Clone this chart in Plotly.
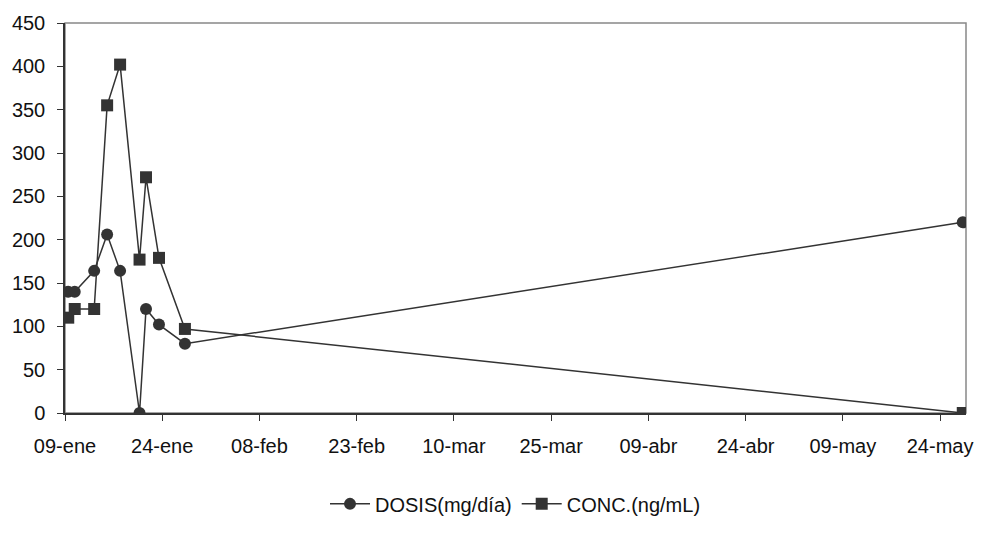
import plotly.graph_objects as go
import pandas as pd

# ---- data ----
fechas = ["2006-01-09", "2006-01-10", "2006-01-13", "2006-01-15", "2006-01-17",
          "2006-01-20", "2006-01-21", "2006-01-23", "2006-01-27", "2006-05-27"]
dosis = [140, 140, 164, 206, 164, 0, 120, 102, 80, 220]
conc = [110, 120, 120, 355, 402, 177, 272, 179, 97, 0]

tick_fechas = ["2006-01-09", "2006-01-24", "2006-02-08", "2006-02-23", "2006-03-10",
               "2006-03-25", "2006-04-09", "2006-04-24", "2006-05-09", "2006-05-24"]
tick_labels = ["09-ene", "24-ene", "08-feb", "23-feb", "10-mar",
               "25-mar", "09-abr", "24-abr", "09-may", "24-may"]

# Excel-style date axis: each day's point is centred in its day slot
x = pd.to_datetime(fechas) + pd.Timedelta(hours=12)

dark = "#333333"
font = dict(family="Liberation Sans, Arial, sans-serif", size=20, color="#111111")

fig = go.Figure()
fig.add_trace(go.Scatter(
    x=x, y=dosis, name="DOSIS(mg/día)", mode="lines+markers",
    line=dict(color=dark, width=1.5),
    marker=dict(symbol="circle", size=12, color=dark),
))
fig.add_trace(go.Scatter(
    x=x, y=conc, name="CONC.(ng/mL)", mode="lines+markers",
    line=dict(color=dark, width=1.5),
    marker=dict(symbol="square", size=12, color=dark),
))

fig.update_layout(
    width=985, height=535,
    margin=dict(l=61, r=18, t=18, b=109),
    paper_bgcolor="white", plot_bgcolor="white",
    font=font,
    showlegend=True,
    legend=dict(orientation="h", x=0.5, xanchor="center", y=-0.233, yanchor="middle",
                font=font, itemwidth=40, traceorder="normal"),
    shapes=[dict(type="rect", xref="paper", yref="paper", x0=0, x1=1, y0=0, y1=1,
                 line=dict(color="#888888", width=1.5), layer="below")],
)

fig.update_xaxes(
    type="date",
    range=[pd.Timestamp("2006-01-09"), pd.Timestamp("2006-05-28")],
    tickmode="array", tickvals=pd.to_datetime(tick_fechas), ticktext=tick_labels,
    showgrid=False, zeroline=False,
    showline=True, linecolor=dark, linewidth=1.5,
    ticks="outside", ticklen=6, tickcolor=dark, tickwidth=1,
    ticklabelstandoff=8,
)
fig.update_yaxes(
    range=[0, 450], tickmode="linear", tick0=0, dtick=50,
    showgrid=False, zeroline=False,
    showline=True, linecolor=dark, linewidth=1.5,
    ticks="outside", ticklen=6, tickcolor=dark, tickwidth=1,
    ticklabelstandoff=8,
)

fig.write_html("out.html")
